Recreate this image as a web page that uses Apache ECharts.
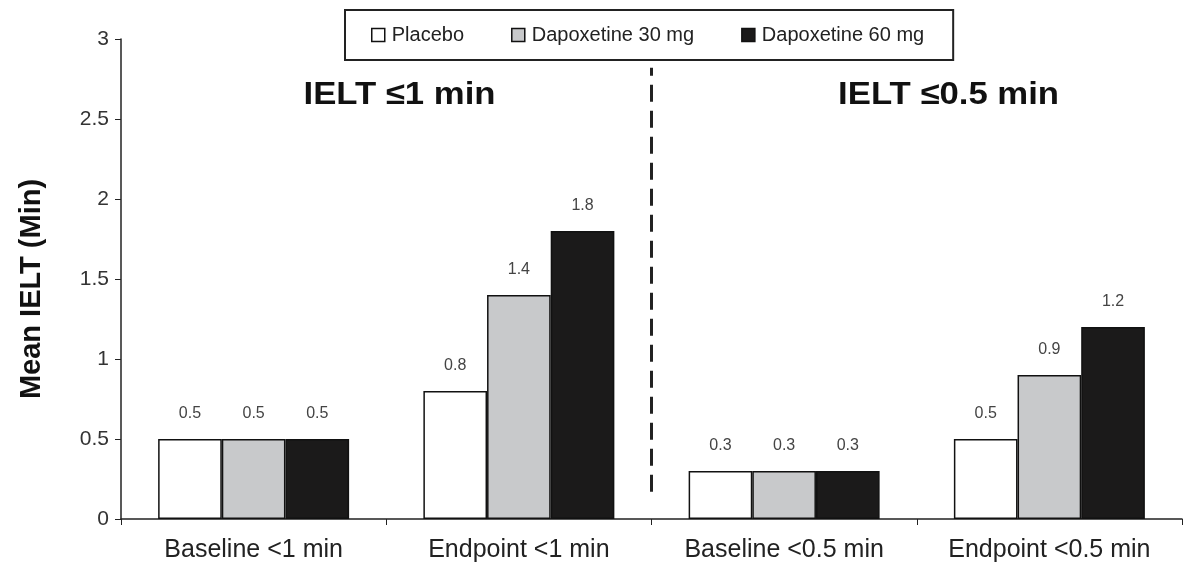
<!DOCTYPE html>
<html>
<head>
<meta charset="utf-8">
<script src="https://cdn.jsdelivr.net/npm/echarts@6/dist/echarts.min.js"></script>
<style>html,body{margin:0;padding:0;background:#fff}#c{width:1192px;height:567px}</style>
</head>
<body>
<div id="c"></div>
<script>
const categories = ['Baseline <1 min', 'Endpoint <1 min', 'Baseline <0.5 min', 'Endpoint <0.5 min'];
const seriesNames = ['Placebo', 'Dapoxetine 30 mg', 'Dapoxetine 60 mg'];
const placebo = [0.5, 0.8, 0.3, 0.5];
const dapo30 = [0.5, 1.4, 0.3, 0.9];
const dapo60 = [0.5, 1.8, 0.3, 1.2];
const yTicks = [0, 0.5, 1, 1.5, 2, 2.5, 3];
const panelTitles = ['IELT \u22641 min', 'IELT \u22640.5 min'];
const dividerAt = 2; // boundary between 2nd and 3rd category (value axis units)
const dividerRange = [0.17, 2.82];

const FONT = '"Liberation Sans", Arial, Helvetica, sans-serif';
const colors = ['#ffffff', '#c8c9cb', '#1b1a1a'];
const values = [placebo, dapo30, dapo60];

const chart = echarts.init(document.getElementById('c'), null, {renderer: 'canvas'});

const series = values.map((v, i) => ({
  name: seriesNames[i],
  type: 'bar',
  data: v,
  barGap: '0%',
  barCategoryGap: '28%',
  itemStyle: {color: colors[i], borderColor: '#111', borderWidth: 1.5},
  label: {
    show: true, position: 'top', distance: 17,
    fontFamily: FONT, fontSize: 16, color: '#444',
    formatter: p => p.value.toFixed(1)
  }
}));

series.push({
  type: 'line',
  xAxisIndex: 1,
  data: [],
  silent: true,
  markLine: {
    symbol: 'none',
    silent: true,
    label: {show: false},
    lineStyle: {type: [17, 9], color: '#222', width: 3},
    data: [[{coord: [dividerAt, dividerRange[0]]}, {coord: [dividerAt, dividerRange[1]]}]]
  }
});

const option = {
  backgroundColor: '#fff',
  animation: false,
  textStyle: {fontFamily: FONT},
  grid: {left: 121, right: 10, top: 39, bottom: 48, containLabel: false},
  legend: {
    data: seriesNames.map(n => ({name: n, icon: 'rect'})),
    left: 345, top: 10,
    padding: [15, 29, 15, 26],
    itemGap: 47,
    itemWidth: 13, itemHeight: 13,
    borderColor: '#222', borderWidth: 2,
    textStyle: {fontFamily: FONT, fontSize: 20, color: '#222', padding: [0, 0, 0, 2]},
    itemStyle: {borderColor: '#111', borderWidth: 1.5}
  },
  xAxis: [{
    type: 'category',
    data: categories,
    axisLine: {lineStyle: {color: '#222', width: 1.5}},
    axisTick: {show: true, alignWithLabel: false, interval: 0, length: 6, lineStyle: {color: '#222'}},
    axisLabel: {interval: 0, hideOverlap: false, fontFamily: FONT, fontSize: 25, color: '#222', margin: 19}
  }, {
    type: 'value', min: 0, max: 4, show: false
  }],
  yAxis: {
    type: 'value',
    min: yTicks[0], max: yTicks[yTicks.length - 1], interval: 0.5,
    name: 'Mean IELT (Min)',
    nameLocation: 'middle',
    nameGap: 75,
    nameTextStyle: {fontFamily: FONT, fontSize: 29, fontWeight: 'bold', color: '#111', padding: [0, 20, 0, 0]},
    axisLine: {show: true, lineStyle: {color: '#222', width: 1.5}},
    axisTick: {show: true, length: 6, lineStyle: {color: '#222'}},
    splitLine: {show: false},
    axisLabel: {fontFamily: FONT, fontSize: 21, color: '#333', margin: 12}
  },
  series: series
};
chart.setOption(option);

// panel titles placed at panel centres via the axis scale
function placeTitles() {
  const y = chart.convertToPixel({yAxisIndex: 0}, 2.65);
  const x1 = chart.convertToPixel({xAxisIndex: 1}, 1.05);
  const x2 = chart.convertToPixel({xAxisIndex: 1}, 3.12);
  const st = t => ({text: t, font: 'bold 31px ' + FONT, fill: '#111', textAlign: 'center', textVerticalAlign: 'middle'});
  chart.setOption({
    graphic: [
      {type: 'text', x: x1, y: y, scaleX: 1.12, style: st(panelTitles[0])},
      {type: 'text', x: x2, y: y, scaleX: 1.12, style: st(panelTitles[1])}
    ]
  });
}
placeTitles();
</script>
</body>
</html>
